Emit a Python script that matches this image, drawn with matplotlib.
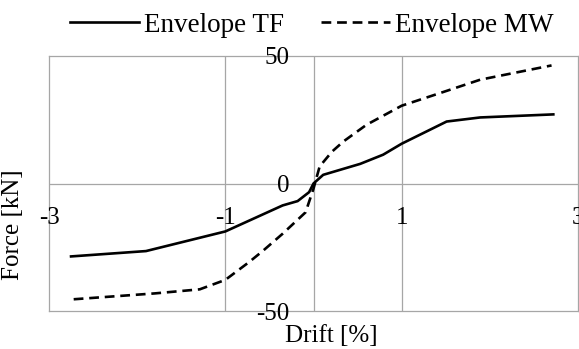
import numpy as np
import matplotlib
matplotlib.use('Agg')
import matplotlib.pyplot as plt

# Envelope curves
driftTF = [-2.75, -1.9, -1.0, -0.35, -0.18, -0.05, 0.0, 0.11, 0.53, 0.79, 1.0, 1.51, 1.89, 2.72]
forceTF = [-28.6, -26.5, -18.8, -8.6, -6.9, -3.4, 0.0, 3.4, 7.7, 11.3, 15.6, 24.3, 25.9, 27.1]

driftMW = [-2.72, -1.8, -1.29, -1.0, -0.73, -0.57, -0.35, -0.09, 0.0, 0.07, 0.21,
           0.34, 0.6, 1.0, 1.43, 1.89, 2.7]
forceMW = [-45.4, -43.1, -41.5, -37.8, -30.8, -26.3, -19.7, -11.3, -2.0, 6.7, 12.5,
           16.5, 23.0, 30.5, 35.4, 40.7, 46.3]

xTicks = [-3, -1, 1, 3]
xTickLabels = ['-3', '-1', '1', '3']
yTicks = [-50, 0, 50]
yTickLabels = ['-50', '0', '50']

plt.rcParams['font.family'] = ['Liberation Serif', 'DejaVu Serif']
fs = 18
gridCol = '#a6a6a6'

W, H = 579, 349
fig = plt.figure(figsize=(W/100., H/100.), dpi=100)
ax = fig.add_axes([49./W, 1 - 311./H, (578.-49.)/W, (311.-56.)/H])

ax.set_xlim(-3, 3)
ax.set_ylim(-50, 50)

# grid and axis lines
for xv in [-1, 0, 1]:
    ax.axvline(xv, color=gridCol, lw=0.9, zorder=1)
ax.axhline(0, color=gridCol, lw=0.9, zorder=1)
for sp in ax.spines.values():
    sp.set_color(gridCol)
    sp.set_linewidth(0.9)
ax.set_xticks([])
ax.set_yticks([])

ax.plot(driftTF, forceTF, color='black', lw=1.9, label='Envelope TF', zorder=3)
ax.plot(driftMW, forceMW, color='black', lw=1.9, ls=(0, (3.7, 2.2)),
        label='Envelope MW', zorder=3)

# tick labels sitting on the zero axes
for xv, lab in zip(xTicks, xTickLabels):
    ax.annotate(lab, xy=(xv, 0), xytext=(0, -41), textcoords='offset pixels',
                ha='center', va='baseline', fontsize=fs, annotation_clip=False)
for yv, lab in zip(yTicks, yTickLabels):
    ax.annotate(lab, xy=(0, yv), xytext=(-24, -8.5), textcoords='offset pixels',
                ha='right', va='baseline', fontsize=fs, annotation_clip=False)

fig.text(331./W, 1 - 342./H, 'Drift [%]', ha='center', va='baseline', fontsize=fs)
fig.text(13./W, 1 - 225./H, 'Force [kN]', ha='center', va='center',
         rotation=90, fontsize=fs)

fig.legend(loc='center', bbox_to_anchor=(312./W, 1 - 25./H), ncol=2,
           frameon=False, fontsize=19.5, handlelength=2.55, handletextpad=0.2,
           columnspacing=1.35, borderpad=0, borderaxespad=0)

fig.savefig('out.png', dpi=100)
